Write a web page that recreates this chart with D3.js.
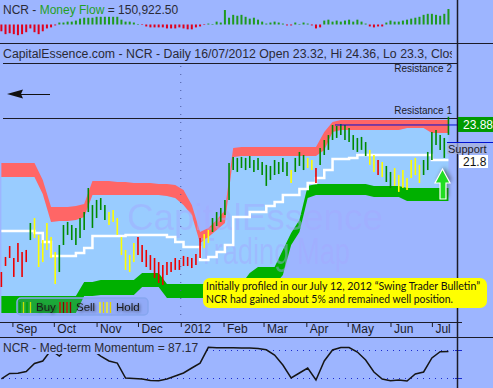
<!DOCTYPE html>
<html>
<head>
<meta charset="utf-8">
<script src="https://cdn.jsdelivr.net/npm/d3@7"></script>
<style>
body { margin: 0; background: #9db5ff; }
svg { display: block; }
</style>
</head>
<body>
<div id="chart"></div>
<script>
// price bars are plotted every 3 calendar days, bands every 6
const FIRST_BAR = new Date(2011, 7, 24)
const BAR_STEP = 3
const BAND_STEP = 6

const barHigh = [
  15.27, 16.15, 16.79, 16.09, 16.97, 16.44, 16.56, 18.14, 18.43, 17.44,
  17.14, 18.14, 17.32, 16.44, 16.85, 18.02, 18.20, 18.02, 17.85, 18.43,
  18.78, 20.19, 19.19, 19.49, 19.60, 19.19, 18.78, 18.90, 18.43, 17.32,
  16.56, 16.26, 16.97, 17.32, 16.85, 16.56, 16.26, 16.09, 15.85, 15.68,
  15.85, 15.85, 16.09, 15.97, 16.21, 16.15, 16.09, 16.32, 17.26, 17.49,
  17.73, 18.43, 18.78, 19.02, 19.49, 21.65, 22.01, 21.95, 22.01, 21.95,
  22.06, 21.83, 21.95, 21.71, 21.54, 21.48, 21.83, 21.71, 21.95, 21.71,
  21.24, 21.95, 22.30, 22.12, 21.95, 21.83, 21.36, 22.53, 23.00, 23.29,
  23.88, 23.82, 23.94, 23.88, 23.70, 23.29, 23.12, 23.18, 22.88, 22.42,
  22.12, 21.83, 21.71, 21.48, 21.13, 21.36, 20.95, 21.24, 20.78, 21.83,
  21.95, 21.54, 21.83, 22.30, 23.47, 23.59, 23.29, 23.12, 24.36
]
const barLow = [
  14.39, 15.62, 16.09, 14.98, 15.85, 14.98, 15.85, 17.14, 17.26, 15.56,
  15.85, 16.56, 16.09, 14.57, 15.27, 16.85, 17.44, 17.14, 16.85, 17.26,
  17.73, 18.78, 17.85, 18.43, 18.90, 18.31, 18.02, 18.20, 17.44, 16.26,
  15.39, 15.27, 15.85, 16.26, 15.85, 15.56, 15.39, 14.92, 14.62, 14.51,
  15.09, 15.27, 15.39, 15.39, 15.62, 15.62, 15.50, 15.68, 16.09, 16.67,
  16.97, 17.61, 17.96, 18.20, 18.61, 19.49, 21.24, 21.13, 21.36, 21.24,
  21.36, 21.13, 21.24, 20.95, 20.31, 20.66, 20.95, 21.01, 21.13, 20.89,
  20.48, 21.13, 21.48, 21.24, 21.36, 21.24, 20.48, 21.54, 22.12, 22.42,
  23.00, 23.12, 23.29, 23.00, 22.88, 22.42, 22.30, 22.42, 22.06, 21.54,
  21.13, 20.95, 20.83, 20.54, 20.19, 20.31, 19.96, 20.19, 20.07, 20.78,
  20.95, 20.48, 20.95, 21.24, 21.83, 22.71, 22.42, 21.95, 23.30
]
// g = buy, r = sell, y = hold
const barSignal = ("rrrrrrr" + "g" + "yyyyyy" + "gggggggggggg" + "yyyyyyy" +
  "rrrrrrrrrrrrrrrr" + "yy" + "ggggggggggggggggggg" + "y" + "ggg" + "yy" + "r" +
  "gggggggggggg" + "yy" + "r" + "y" + "gg" + "yyyyyyy" + "ggggggg").split("")

// money flow, thousands
const moneyFlow = [
  -66, -94, -85, -94, -104, -94, -75, -38, -75, -94,
  -66, -38, -28, -9, 19, 19, 28, 28, 38, 57,
  66, 66, 66, 75, 75, 75, 75, 75, 75, 47,
  28, 28, 19, 5, -5, -19, -28, -28, -28, -28,
  -38, -38, -38, -28, -38, -47, -47, -28, -19, -5,
  9, 5, 28, 19, 141, 66, 94, 85, 94, 75,
  57, 66, 47, 28, 9, 19, 28, 19, 9, -9,
  -9, 19, 5, 19, 9, -9, -38, -28, 38, 47,
  28, 38, 28, 38, 47, 28, 47, 28, 9, -19,
  -28, -19, -19, 19, 38, 28, 28, 38, 47, 57,
  66, 75, 94, 104, 104, 94, 85, 104, 150.92
]

const resTop = [
  21.65, 21.65, 21.65, 21.65, 21.65, 20.66, 19.08, 19.08, 19.08, 19.13,
  19.25, 20.60, 20.60, 20.60, 20.54, 20.54, 20.48, 20.48, 20.48, 20.42,
  20.42, 20.37, 20.07, 19.19, 17.61, 17.85, 18.31, 18.90, 22.53, 22.59,
  22.59, 22.59, 22.59, 22.59, 22.59, 22.59, 22.59, 22.59, 22.59, 23.47,
  24.06, 24.17, 24.17, 24.17, 24.17, 24.17, 24.17, 24.17, 24.17, 24.17,
  24.17, 24.17, 24.17, 24.17, 24.17
]
const resBottom = [
  20.83, 20.83, 20.83, 20.83, 20.83, 19.84, 18.20, 18.26, 18.26, 18.31,
  18.49, 19.78, 19.78, 19.78, 19.78, 19.78, 19.78, 19.78, 19.78, 19.78,
  19.72, 19.60, 19.19, 18.61, 16.97, 17.32, 17.73, 18.14, 22.01, 22.06,
  22.06, 22.06, 22.06, 22.06, 22.06, 22.06, 22.06, 22.06, 22.06, 22.42,
  23.47, 23.59, 23.59, 23.59, 23.59, 23.59, 23.59, 23.59, 23.59, 23.70,
  23.70, 23.70, 23.41, 23.41, 23.41
]
const supTop = [
  13.86, 13.86, 13.86, 13.86, 13.86, 13.86, 13.86, 13.86, 13.86, 13.86,
  14.68, 14.68, 14.80, 14.80, 14.80, 14.80, 14.80, 15.21, 15.21, 15.21,
  14.57, 14.57, 14.57, 14.57, 14.57, 14.57, 14.57, 14.57, 14.57, 14.57,
  15.21, 15.56, 15.56, 15.56, 16.56, 17.55, 18.31, 20.31, 20.42, 20.42,
  20.42, 20.42, 20.42, 20.42, 20.42, 20.31, 20.31, 20.31, 20.31, 20.19,
  20.19, 20.19, 20.19, 20.19, 20.19
]
const supBottom = [
  12.87, 12.87, 12.87, 12.87, 12.87, 12.87, 12.87, 12.87, 12.87, 12.87,
  13.86, 13.86, 13.92, 13.92, 13.92, 13.92, 13.92, 14.39, 14.39, 14.39,
  13.75, 13.75, 13.75, 13.75, 13.75, 13.75, 13.75, 13.75, 13.75, 13.75,
  14.51, 14.51, 14.51, 14.51, 15.09, 16.85, 17.61, 19.60, 19.78, 19.78,
  19.78, 19.78, 19.78, 19.78, 19.78, 19.66, 19.66, 19.66, 19.66, 19.43,
  19.43, 19.43, 19.43, 19.43, 19.43
]
const midLine = [
  17.67, 17.67, 17.67, 17.67, 17.55, 17.03, 16.21, 16.21, 16.21, 16.38,
  16.67, 17.38, 17.38, 17.38, 17.38, 17.44, 17.44, 17.44, 17.44, 17.44,
  17.32, 17.03, 16.73, 16.73, 15.97, 16.15, 16.44, 16.85, 18.49, 18.49,
  18.78, 18.78, 19.13, 19.37, 19.78, 19.78, 20.13, 20.48, 20.78, 21.24,
  21.89, 21.89, 21.95, 22.12, 22.12, 22.12, 22.12, 22.12, 22.12, 22.12,
  22.12, 22.12, 21.83, 21.83, 21.83
]
const momentum = [
  8.6, 24.3, 25, 30, 52.9, 60, 91, 74, 98, 99,
  98, 91, 74, 60, 54, 11.4, 10, 8.6, 4.3, 3.7,
  8.6, 17, 25.7, 40, 54, 99, 98, 98, 98, 97,
  97, 96, 92, 77, 48.6, 11.4, 25.7, 40, 5.7, 60,
  91.4, 98.6, 98.6, 85.7, 62.9, 28.6, 8.6, 3.7, 5.7, 2.9,
  22.9, 28.6, 68.6, 86.6, 87.17
]

const monthLabels = ["Sep", "Oct", "Nov", "Dec", "2012", "Feb", "Mar", "Apr", "May", "Jun", "Jul"]
const resistanceNames = ["Resistance 1", "Resistance 2"]
const resistanceLevels = [24.3, 27.5]
const momentumGuides = [10, 90]
const lastClose = 23.88
const supportLevel = 21.8
const legendNames = ["Buy", "Sell", "Hold"]
const legendColors = [["#00a000", "#c8e000"], ["#e00000", "#900000"], ["#ffff00", "#e8d800"]]

const FONT = "'Liberation Sans', Arial, sans-serif"
const BG = "#9db5ff"
const SKY = "#99ccff"
const RED_BAND = "#ff6666"
const GREEN_BAND = "#00b000"
const SIGNAL_COLOR = { g: "#008a00", r: "#ee0000", y: "#ffff00" }
const INK = "#1c1c28"

const bars = barHigh.map((h, i) => ({
  date: d3.timeDay.offset(FIRST_BAR, i * BAR_STEP),
  high: h, low: barLow[i], sig: barSignal[i], mf: moneyFlow[i]
}))
const bands = resTop.map((v, j) => ({
  date: d3.timeDay.offset(FIRST_BAR, j * BAND_STEP),
  rt: v, rb: resBottom[j], st: supTop[j], sb: supBottom[j], mid: midLine[j], mom: momentum[j]
}))

// scales
const x = d3.scaleTime()
  .domain([new Date(2011, 7, 23), new Date(2012, 6, 25)])
  .range([0, 465])
const yP = d3.scaleLinear().domain([12.34, 27.51]).range([322, 63])
const yMF = d3.scaleLinear().domain([0, 150.92]).range([24.5, 9])
const yM = d3.scaleLinear().domain([0, 100]).range([382, 347])

const svg = d3.select("#chart").append("svg")
  .attr("width", 493)
  .attr("height", 388)
  .attr("font-family", FONT)

svg.append("rect").attr("width", 493).attr("height", 388).attr("fill", BG)

const defs = svg.append("defs")
defs.append("clipPath").attr("id", "mainClip")
  .append("rect").attr("x", 0).attr("y", 64).attr("width", 457).attr("height", 258)
defs.append("clipPath").attr("id", "titleClip")
  .append("rect").attr("x", 0).attr("y", 44).attr("width", 452).attr("height", 19)
defs.append("clipPath").attr("id", "leftClip")
  .append("rect").attr("x", 0).attr("y", 0).attr("width", 457).attr("height", 388)

const shadow = defs.append("filter").attr("id", "shadow")
  .attr("x", "-30%").attr("y", "-50%").attr("width", "160%").attr("height", "200%")
shadow.append("feGaussianBlur").attr("in", "SourceAlpha").attr("stdDeviation", 1.4).attr("result", "blur")
shadow.append("feOffset").attr("in", "blur").attr("dx", 1).attr("dy", 1).attr("result", "off")
shadow.append("feComponentTransfer").attr("in", "off").attr("result", "soft")
  .append("feFuncA").attr("type", "linear").attr("slope", 0.55)
const merge = shadow.append("feMerge")
merge.append("feMergeNode").attr("in", "soft")
merge.append("feMergeNode").attr("in", "SourceGraphic")

// ---- money flow panel
const mfPanel = svg.append("g").attr("clip-path", "url(#leftClip)")
mfPanel.selectAll(".mf")
  .data(bars)
  .join("rect")
  .attr("class", "mf")
  .attr("x", d => x(d.date) - 1)
  .attr("width", 2)
  .attr("y", d => Math.min(yMF(d.mf), yMF(0)))
  .attr("height", d => Math.abs(yMF(d.mf) - yMF(0)))
  .attr("fill", d => d.mf >= 0 ? "#1f9a1f" : "#e0001c")

const mfLabel = svg.append("text").attr("x", 3).attr("y", 14).attr("font-size", 12).attr("fill", "#2a2a36")
mfLabel.append("tspan").text("NCR - ")
mfLabel.append("tspan").attr("fill", "#25a025").text("Money Flow")
mfLabel.append("tspan").text(" = 150,922.50")

// ---- title row
svg.append("text")
  .attr("clip-path", "url(#titleClip)")
  .attr("x", 3).attr("y", 58)
  .attr("font-size", 12.3)
  .attr("fill", "#2a2a36")
  .text("CapitalEssence.com - NCR - Daily 16/07/2012 Open 23.32, Hi 24.36, Lo 23.3, Close 23.88")

// ---- main price panel
const main = svg.append("g").attr("clip-path", "url(#mainClip)")

main.append("path").datum(bands)
  .attr("fill", SKY)
  .attr("d", d3.area().x(d => x(d.date)).y0(d => yP(d.st)).y1(d => yP(d.rb)))
main.append("path").datum(bands)
  .attr("fill", RED_BAND)
  .attr("d", d3.area().x(d => x(d.date)).y0(d => yP(d.rb)).y1(d => yP(d.rt)))
main.append("path").datum(bands)
  .attr("fill", GREEN_BAND)
  .attr("d", d3.area().x(d => x(d.date)).y0(d => yP(d.sb)).y1(d => yP(d.st)))

// watermark
const wm = main.append("g").attr("fill", "#a4a8ff").attr("opacity", 0.45).attr("font-size", 36)
wm.append("text").attr("x", 127).attr("y", 230)
  .attr("textLength", 256).attr("lengthAdjust", "spacingAndGlyphs").text("CapitalEssence")
wm.append("text").attr("x", 198).attr("y", 264)
  .attr("textLength", 152).attr("lengthAdjust", "spacingAndGlyphs").text("Trading Map")

// year boundary
main.append("line")
  .attr("x1", x(new Date(2012, 0, 1))).attr("x2", x(new Date(2012, 0, 1)))
  .attr("y1", 66).attr("y2", 322)
  .attr("stroke", "#4a5aa0").attr("stroke-dasharray", "1,7")

// resistance levels
main.selectAll(".res")
  .data(resistanceLevels)
  .join("line")
  .attr("x1", 3).attr("x2", 457)
  .attr("y1", d => Math.round(yP(d)) + 0.5).attr("y2", d => Math.round(yP(d)) + 0.5)
  .attr("stroke", INK)

main.append("path").datum(bands)
  .attr("fill", "none")
  .attr("stroke", "#ffffff")
  .attr("stroke-width", 2.5)
  .attr("d", d3.line().curve(d3.curveStepAfter).x(d => x(d.date)).y(d => yP(d.mid)))

main.selectAll(".bar")
  .data(bars)
  .join("line")
  .attr("class", "bar")
  .attr("x1", d => x(d.date)).attr("x2", d => x(d.date))
  .attr("y1", d => yP(d.high)).attr("y2", d => yP(d.low))
  .attr("stroke", d => SIGNAL_COLOR[d.sig])
  .attr("stroke-width", 1.6)

// last close marker line
main.append("line")
  .attr("x1", 335).attr("x2", 457)
  .attr("y1", yP(lastClose)).attr("y2", yP(lastClose))
  .attr("stroke", "#0010d0")

svg.selectAll(".resLabel")
  .data(resistanceLevels)
  .join("text")
  .attr("x", 452)
  .attr("y", (d, i) => i == 1 ? yP(d) + 9 : yP(d) - 4)
  .attr("text-anchor", "end")
  .attr("font-size", 10)
  .attr("fill", INK)
  .text((d, i) => resistanceNames[i])

// left arrow
svg.append("path").attr("d", "M7,94 L23,89.5 L21,94 L23,98.5 Z").attr("fill", "#111")
svg.append("line").attr("x1", 21).attr("x2", 50).attr("y1", 94.5).attr("y2", 94.5).attr("stroke", "#111")

// ---- time axis
const axisG = svg.append("g")
  .attr("transform", "translate(0,322)")
  .call(d3.axisBottom(x)
    .tickValues(d3.timeMonth.range(new Date(2011, 8, 1), new Date(2012, 7, 1)))
    .tickFormat((d, i) => monthLabels[i])
    .tickSize(5)
    .tickSizeOuter(0))
  .attr("font-family", FONT)
  .attr("font-size", 12)
axisG.select(".domain").remove()
axisG.selectAll(".tick line").attr("stroke", INK)
axisG.selectAll(".tick text")
  .attr("text-anchor", "start")
  .attr("x", 3).attr("y", 11).attr("dy", null)
  .attr("fill", INK)
svg.append("line").attr("x1", 0).attr("x2", 462).attr("y1", 322.5).attr("y2", 322.5).attr("stroke", INK)

// ---- momentum panel
const momPanel = svg.append("g").attr("clip-path", "url(#leftClip)")
momPanel.selectAll(".guide")
  .data(momentumGuides)
  .join("line")
  .attr("x1", 3).attr("x2", 455)
  .attr("y1", d => yM(d)).attr("y2", d => yM(d))
  .attr("stroke", "#1a2ad0").attr("stroke-dasharray", "1,5")
momPanel.append("path").datum(bands)
  .attr("fill", "none")
  .attr("stroke", "#151515")
  .attr("stroke-width", 1.5)
  .attr("d", d3.line().x(d => x(d.date)).y(d => yM(d.mom)))
svg.selectAll(".guideTick")
  .data(momentumGuides)
  .join("line")
  .attr("x1", 455).attr("x2", 462)
  .attr("y1", d => yM(d)).attr("y2", d => yM(d))
  .attr("stroke", "#1a2ad0")
svg.append("rect").attr("x", 2).attr("y", 339).attr("width", 201).attr("height", 15).attr("fill", BG)
svg.append("text").attr("x", 3).attr("y", 352).attr("font-size", 12).attr("fill", "#2a2a36")
  .text("NCR - Med-term Momentum  = 87.17")

// ---- frame lines
svg.append("line").attr("x1", 0).attr("x2", 493).attr("y1", 43.5).attr("y2", 43.5).attr("stroke", INK)
svg.append("line").attr("x1", 3).attr("x2", 457).attr("y1", 63.5).attr("y2", 63.5).attr("stroke", INK)
svg.append("line").attr("x1", 0).attr("x2", 493).attr("y1", 337.5).attr("y2", 337.5).attr("stroke", INK)
svg.append("line").attr("x1", 457.5).attr("x2", 457.5).attr("y1", 0).attr("y2", 388)
  .attr("stroke", INK).attr("stroke-width", 1.5)

// ---- right labels
svg.append("rect").attr("x", 458).attr("y", yP(lastClose) - 8).attr("width", 35).attr("height", 15).attr("fill", "#009a00")
svg.append("text").attr("x", 463).attr("y", yP(lastClose) + 4.5).attr("font-size", 12).attr("fill", "#ffffff").text(lastClose.toFixed(2))

svg.append("line").attr("x1", 447).attr("x2", 493).attr("y1", 142.5).attr("y2", 142.5).attr("stroke", "#0010d0")
svg.append("rect").attr("x", 447).attr("y", 143).attr("width", 40).attr("height", 11)
  .attr("fill", "#a8b0d8").attr("opacity", 0.7)
svg.append("text").attr("x", 448).attr("y", 152.5).attr("font-size", 11).attr("fill", INK).text("Support")
svg.append("rect").attr("x", 459).attr("y", 155).attr("width", 29).attr("height", 13).attr("fill", "#ffffff")
svg.append("text").attr("x", 463).attr("y", 165.5).attr("font-size", 12).attr("fill", "#111").text(supportLevel)

// green up arrow
const arrowPath = "M442.5,169 L450,183 L446,183 L446,199 L440,199 L440,183 L435,183 Z"
svg.append("path").attr("d", arrowPath).attr("fill", "#333").attr("opacity", 0.6)
  .attr("transform", "translate(2,-2)").style("filter", "blur(2px)")
svg.append("path").attr("d", arrowPath).attr("fill", "#22dd22").attr("stroke", "#ffffff").attr("stroke-width", 1.2)

// ---- legend
const legend = svg.append("g").attr("transform", "translate(17,298)")
legend.append("rect").attr("width", 131).attr("height", 17).attr("rx", 4)
  .attr("fill", "#6f8ce0").attr("fill-opacity", 0.25)
  .attr("stroke", "#86a6f0").attr("stroke-width", 1.5)
const legendX = [3, 43, 83]
legendNames.forEach((name, k) => {
  for (let s = 0; s < 4; s++) {
    legend.append("line")
      .attr("x1", legendX[k] + s * 3.5).attr("x2", legendX[k] + s * 3.5)
      .attr("y1", 4).attr("y2", 15)
      .attr("stroke", legendColors[k][s % 2]).attr("stroke-width", 1.3)
  }
  legend.append("text")
    .attr("x", legendX[k] + 16).attr("y", 13)
    .attr("font-size", 11.5)
    .attr("fill", "#1a1a1a")
    .attr("filter", "url(#shadow)")
    .text(name)
})

// ---- note box
const note = svg.append("g")
note.append("rect").attr("x", 203).attr("y", 278).attr("width", 284).attr("height", 30).attr("rx", 7)
  .attr("fill", "#ffff00")
note.append("text").attr("x", 206).attr("y", 290)
  .attr("font-family", "Lato, 'Open Sans', sans-serif").attr("font-size", 10.5).attr("fill", "#111")
  .attr("textLength", 274).attr("lengthAdjust", "spacingAndGlyphs")
  .text("Initially profiled in our July 12, 2012 \u201cSwing Trader Bulletin\u201d")
note.append("text").attr("x", 206).attr("y", 303)
  .attr("font-family", "Lato, 'Open Sans', sans-serif").attr("font-size", 10.5).attr("fill", "#111")
  .attr("textLength", 247).attr("lengthAdjust", "spacingAndGlyphs")
  .text("NCR had gained about 5% and remained well position.")
</script>
</body>
</html>
